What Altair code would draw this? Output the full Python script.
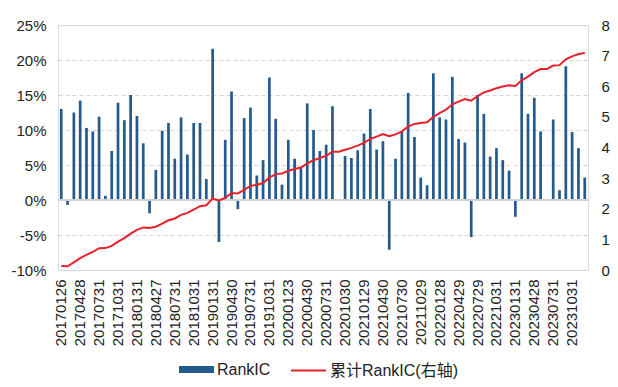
import altair as alt
import pandas as pd

# Monthly RankIC (%) from 2017-01 to 2023-12 (0 where no bar is drawn)
rank_ic_pct = [
    13.0, -0.7, 12.5, 14.2, 10.3, 9.8, 11.9, 0.6, 7.0, 13.9, 11.4, 15.0,
    12.0, 8.1, -1.9, 4.3, 9.9, 11.0, 5.9, 11.8, 6.5, 11.0, 11.0, 3.0,
    21.6, -6.0, 8.6, 15.5, -1.3, 11.7, 13.2, 3.5, 5.7, 17.5, 11.6, 2.2,
    8.6, 5.9, 4.6, 13.8, 10.0, 7.0, 7.9, 13.4, 0.0, 6.3, 6.0, 7.1,
    9.5, 13.0, 7.2, 8.4, -7.1, 5.9, 9.8, 15.3, 9.0, 3.2, 2.1, 18.1,
    11.8, 11.5, 17.6, 8.7, 8.2, -5.3, 15.0, 12.3, 6.2, 7.4, 5.7, 4.2,
    -2.4, 18.1, 12.3, 14.6, 9.8, 0.0, 11.5, 1.4, 19.1, 9.7, 7.4, 3.2,
]

tick_labels = [
    "20170126", "20170428", "20170731", "20171031", "20180131", "20180427",
    "20180731", "20181031", "20190131", "20190430", "20190731", "20191031",
    "20200123", "20200430", "20200731", "20201030", "20210129", "20210430",
    "20210730", "20211029", "20220128", "20220429", "20220729", "20221031",
    "20230131", "20230428", "20230731", "20231031",
]

left_ticks = [-0.10, -0.05, 0.0, 0.05, 0.10, 0.15, 0.20, 0.25]
right_ticks = [0, 1, 2, 3, 4, 5, 6, 7, 8]

series_names = ["RankIC", "累计RankIC(右轴)"]
bar_color = "#245a8c"
line_color = "#e8202a"

df = pd.DataFrame({"i": list(range(len(rank_ic_pct))), "pct": rank_ic_pct})

label_array = "[" + ",".join("'" + s + "'" for s in tick_labels) + "]"

FONT = "Liberation Sans, Arial, Noto Sans CJK SC, sans-serif"

base = (
    alt.Chart(df)
    .transform_calculate(ic="datum.pct / 100")
    .transform_window(cum="sum(ic)", sort=[alt.SortField("i")], frame=[None, 0])
)

x_enc = alt.X(
    "i:O",
    scale=alt.Scale(paddingInner=0.57, paddingOuter=0.3),
    axis=alt.Axis(
        values=list(range(0, 84, 3)),
        labelExpr=label_array + "[floor(datum.value / 3)]",
        labelAngle=270,
        labelPadding=9,
        labelFontSize=15,
        labelColor="#222222",
        labelOverlap=False,
        domain=False,
        ticks=False,
        grid=False,
        title=None,
    ),
)

left_scale = alt.Scale(domain=[-0.10, 0.25], nice=False, zero=False)
left_axis = alt.Axis(
    values=left_ticks,
    labelExpr="round(datum.value * 100) + '%'",
    labelFontSize=15,
    labelColor="#222222",
    labelPadding=12,
    labelOverlap=False,
    labelFlush=False,
    domain=False,
    ticks=False,
    grid=True,
    gridDash=[4, 3],
    gridColor="#d4d4d4",
    title=None,
)

bars = base.transform_calculate(s1="'" + series_names[0] + "'").mark_bar().encode(
    x=x_enc,
    y=alt.Y("ic:Q", scale=left_scale, axis=left_axis),
    fill=alt.Fill(
        "s1:N",
        scale=alt.Scale(domain=[series_names[0]], range=[bar_color]),
        legend=alt.Legend(
            title=None,
            orient="none",
            legendX=121,
            legendY=327,
            symbolType="M-1,-0.2H1V0.2H-1Z",
            symbolSize=1225,
            symbolStrokeWidth=0,
            labelFontSize=16,
            labelFont=FONT,
            labelColor="#222222",
            labelOffset=3,
        ),
    ),
)

zero_rule = base.mark_rule(color="#d0d0d0", strokeWidth=1).encode(
    y=alt.Y(datum=0, scale=left_scale, axis=left_axis),
)

left_layer = alt.layer(bars, zero_rule)

line = base.transform_calculate(s2="'" + series_names[1] + "'").mark_line(strokeWidth=2).encode(
    x=alt.X("i:O"),
    y=alt.Y(
        "cum:Q",
        scale=alt.Scale(domain=[0, 8], nice=False),
        axis=alt.Axis(
            orient="right",
            values=right_ticks,
            format="d",
            labelFontSize=15,
            labelColor="#222222",
            labelPadding=13,
            labelOverlap=False,
            labelFlush=False,
            domain=False,
            ticks=False,
            grid=False,
            title=None,
        ),
    ),
    stroke=alt.Stroke(
        "s2:N",
        scale=alt.Scale(domain=[series_names[1]], range=[line_color]),
        legend=alt.Legend(
            title=None,
            orient="none",
            legendX=232,
            legendY=327,
            symbolType="stroke",
            symbolSize=1225,
            symbolStrokeWidth=2,
            labelFontSize=16,
            labelFont=FONT,
            labelColor="#222222",
            labelOffset=3,
        ),
    ),
)

chart = (
    alt.layer(left_layer, line)
    .resolve_scale(y="independent")
    .properties(
        width=530,
        height=245,
        padding={"left": 50, "top": 17, "right": 22, "bottom": 109},
        autosize=alt.AutoSizeParams(type="none"),
        background="white",
    )
    .configure_view(stroke=None)
    .configure(font=FONT)
)

chart.save("out.html", embed_options={"renderer": "svg", "actions": False})
